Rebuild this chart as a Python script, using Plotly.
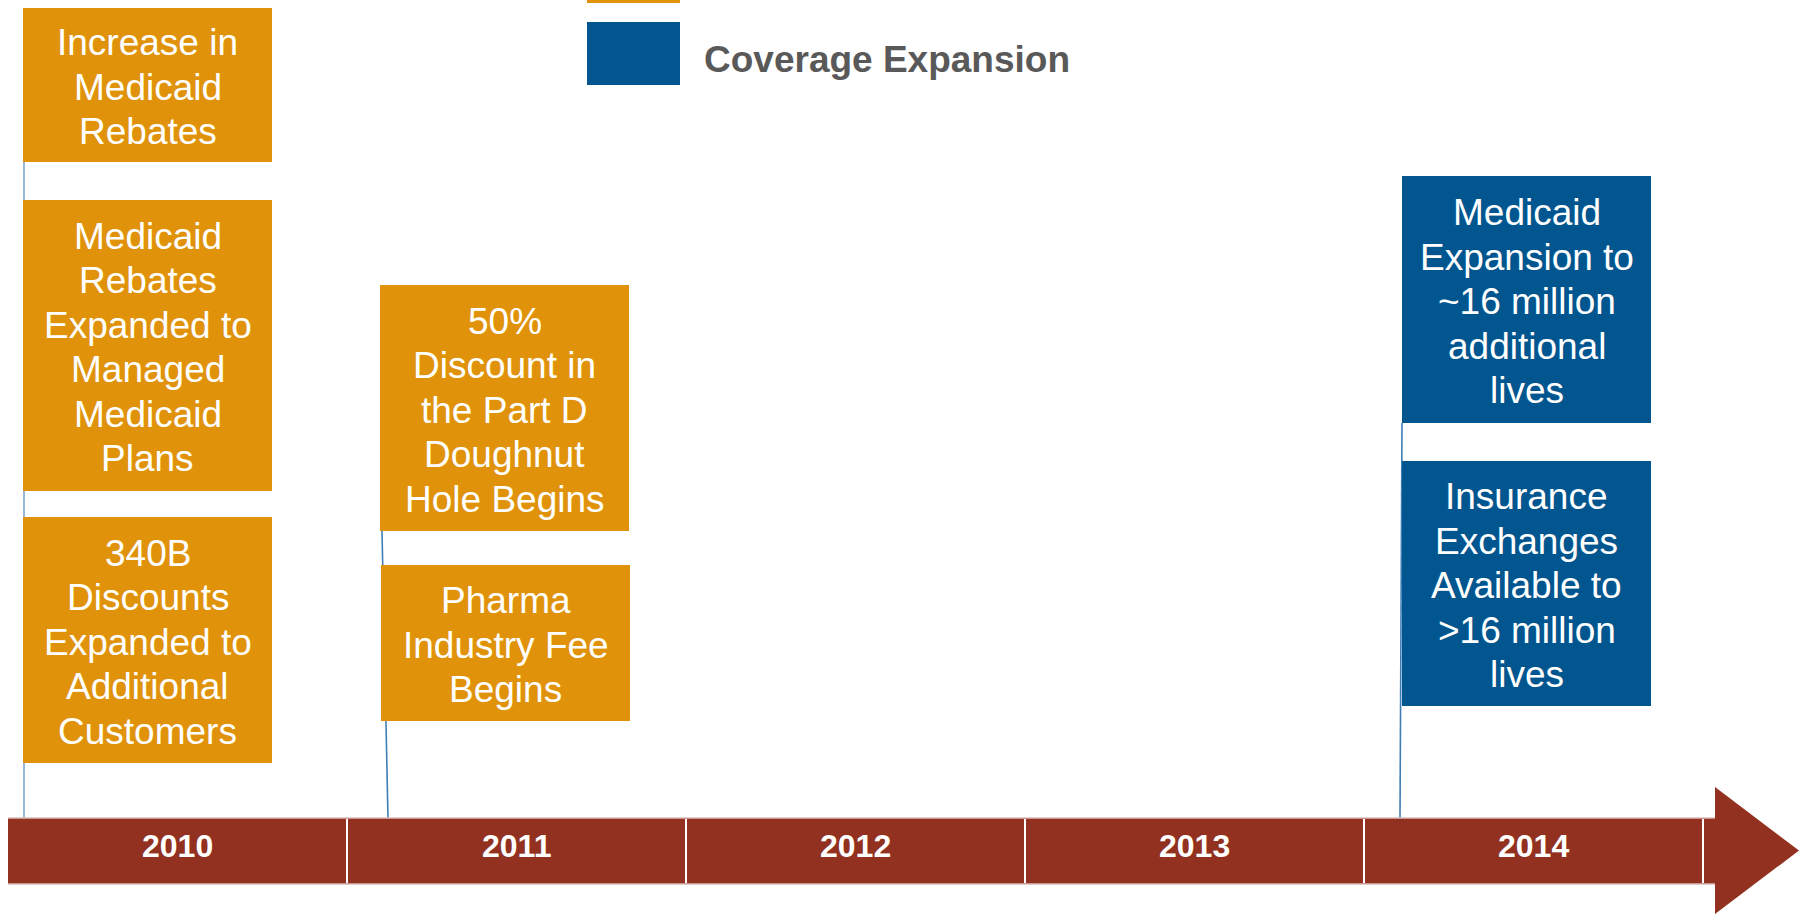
import plotly.graph_objects as go

# ---------------- data ----------------
years = [2010, 2011, 2012, 2013, 2014]

event_texts = [
    "Increase in<br>Medicaid<br>Rebates",
    "Medicaid<br>Rebates<br>Expanded to<br>Managed<br>Medicaid<br>Plans",
    "340B<br>Discounts<br>Expanded to<br>Additional<br>Customers",
    "50%<br>Discount in<br>the Part D<br>Doughnut<br>Hole Begins",
    "Pharma<br>Industry Fee<br>Begins",
    "Medicaid<br>Expansion to<br>~16 million<br>additional<br>lives",
    "Insurance<br>Exchanges<br>Available to<br>>16 million<br>lives",
]
event_years = [2010, 2010, 2010, 2011, 2011, 2014, 2014]
event_category = ["cost", "cost", "cost", "cost", "cost", "coverage", "coverage"]

legend_labels = ["", "Coverage Expansion"]
legend_categories = ["cost", "coverage"]

# ---------------- layout / styles ----------------
W, H = 1807, 916
COLORS = {"cost": "#E0930A", "coverage": "#02568F"}
BAR_COLOR = "#92311F"
BAR_X0, SEG_W = 8, 339
BAR_TOP, BAR_BOT = 818, 884
HEAD_X, HEAD_TIP, HEAD_TOP, HEAD_BOT = 1715, 1799, 787, 914
BOX_W = 249
LINE_H = 44.5
FONT = "Liberation Sans, Arial, sans-serif"

box_x0 = [23, 23, 23, 380, 381, 1402, 1402]
box_top = [8, 200, 517, 285, 565, 176, 461]
box_bot = [162, 491, 763, 531, 721, 423, 706]

# connector lines (x at top, y at top, x at bar)
connectors = {2010: (24, 162, 24, "#7BA7CC"), 2011: (382, 531, 388, "#3F7DB5"),
              2014: (1402, 423, 1400, "#3F7DB5")}

legend_x0, legend_x1 = 587, 680
legend_y = [(-60, 3), (22, 85)]

fig = go.Figure()
fig.add_trace(go.Scatter(x=[0, W], y=[0, H], mode="markers",
                         marker=dict(opacity=0), hoverinfo="skip", showlegend=False))

shapes = []
annotations = []

# connectors
for yr, (xt, yt, xb, col) in connectors.items():
    shapes.append(dict(type="line", xref="x", yref="y", x0=xt, y0=yt, x1=xb, y1=BAR_TOP,
                       line=dict(color=col, width=1.6)))

# timeline arrow
path = (f"M {BAR_X0},{BAR_TOP} L {HEAD_X},{BAR_TOP} L {HEAD_X},{HEAD_TOP} "
        f"L {HEAD_TIP},{(HEAD_TOP + HEAD_BOT) / 2} L {HEAD_X},{HEAD_BOT} "
        f"L {HEAD_X},{BAR_BOT} L {BAR_X0},{BAR_BOT} Z")
shapes.append(dict(type="path", xref="x", yref="y", path=path,
                   fillcolor=BAR_COLOR, line=dict(width=0)))
for yy in (BAR_TOP, BAR_BOT):
    shapes.append(dict(type="line", xref="x", yref="y", x0=BAR_X0, x1=HEAD_X, y0=yy, y1=yy,
                       line=dict(color="#D9BDB8", width=1.5)))

for i, yr in enumerate(years):
    x0 = BAR_X0 + i * SEG_W
    x1 = x0 + SEG_W
    shapes.append(dict(type="line", xref="x", yref="y", x0=x1, x1=x1,
                       y0=BAR_TOP + 1, y1=BAR_BOT - 1,
                       line=dict(color="white", width=2)))
    annotations.append(dict(x=(x0 + x1) / 2, y=(BAR_TOP + BAR_BOT) / 2 - 5, xref="x", yref="y",
                            text=f"<b>{yr}</b>", showarrow=False,
                            font=dict(family=FONT, size=32, color="white"),
                            xanchor="center", yanchor="middle"))

# event boxes
for i, txt in enumerate(event_texts):
    x0 = box_x0[i]
    x1 = x0 + BOX_W
    shapes.append(dict(type="rect", xref="x", yref="y", x0=x0, x1=x1,
                       y0=box_top[i], y1=box_bot[i],
                       fillcolor=COLORS[event_category[i]], line=dict(width=0)))
    lines = txt.split("<br>")
    n = len(lines)
    cy = (box_top[i] + box_bot[i]) / 2
    for k, ln in enumerate(lines):
        annotations.append(dict(x=(x0 + x1) / 2, y=cy + (k - (n - 1) / 2) * LINE_H + 2,
                                xref="x", yref="y", text=ln, showarrow=False,
                                font=dict(family=FONT, size=37, color="white"),
                                xanchor="center", yanchor="middle"))

# legend
for (ya, yb), cat, lab in zip(legend_y, legend_categories, legend_labels):
    shapes.append(dict(type="rect", xref="x", yref="y", x0=legend_x0, x1=legend_x1,
                       y0=ya, y1=yb, fillcolor=COLORS[cat], line=dict(width=0)))
    if lab:
        annotations.append(dict(x=702, y=(ya + yb) / 2 + 6, xref="x", yref="y",
                                text=f"<b>{lab}</b>", showarrow=False,
                                font=dict(family=FONT, size=37, color="#595959"),
                                xanchor="left", yanchor="middle"))

fig.update_layout(
    width=W, height=H,
    margin=dict(l=0, r=0, t=0, b=0),
    paper_bgcolor="white", plot_bgcolor="white",
    xaxis=dict(range=[0, W], visible=False, fixedrange=True),
    yaxis=dict(range=[H, 0], visible=False, fixedrange=True),
    shapes=shapes, annotations=annotations,
    showlegend=False,
)

fig.write_html("out.html")
